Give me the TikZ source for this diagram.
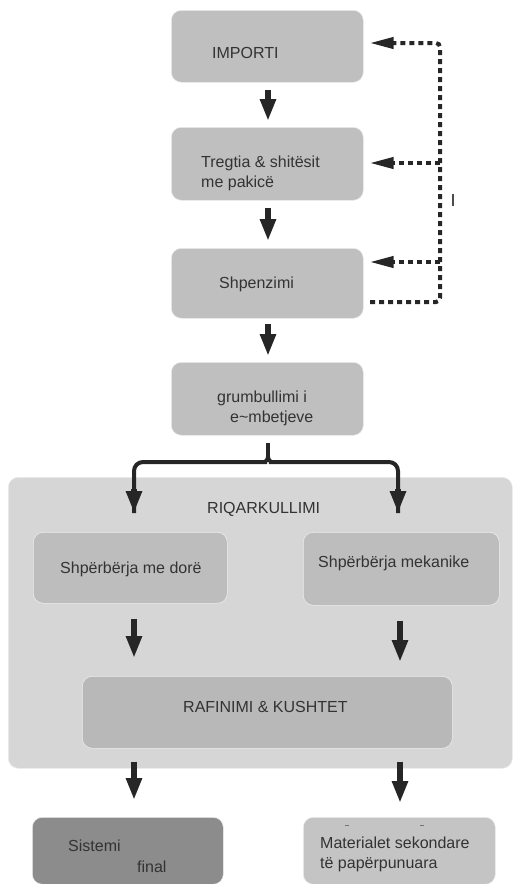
\documentclass[tikz,border=0pt]{standalone}
\usepackage{fontspec}
\setmainfont{Liberation Sans}
\usetikzlibrary{arrows.meta,calc}
\begin{document}
\begin{tikzpicture}[x=1pt,y=-1pt,
  box/.style={draw=white!85!gray,line width=0.6pt,rounded corners=10pt,fill=#1,inner sep=0pt},
  box/.default={gray!50!white},
  lbl/.style={anchor=base west,font=\fontsize{16}{20}\selectfont,text=black!80,inner sep=0pt},
  arr/.style={line width=6pt,black!85,-{Triangle[length=22pt,width=15pt]}},
  fb/.style={line width=4pt,black!85,dash pattern=on 5pt off 4pt,rounded corners=4pt},
  fbarr/.style={fb,-{Triangle[length=24pt,width=11pt]}},
  brace/.style={line width=4pt,black!85,rounded corners=9pt}
]
\useasboundingbox (0,0) rectangle (513,884);
% background group
\node[box=black!16,minimum width=504pt,minimum height=291pt,anchor=north west] (riq) at (8,477) {};
% top chain
\node[box=black!25,minimum width=192pt,minimum height=72pt,anchor=north west] (imp) at (171,10) {};
\node[box=black!25,minimum width=192pt,minimum height=73pt,anchor=north west] (tre) at (171,127) {};
\node[box=black!25,minimum width=192pt,minimum height=70pt,anchor=north west] (shp) at (171,248) {};
\node[box=black!25,minimum width=192pt,minimum height=73pt,anchor=north west] (gru) at (171,362) {};
% inner boxes
\node[box=black!26,minimum width=194pt,minimum height=71pt,anchor=north west] (dor) at (33,532) {};
\node[box=black!26,minimum width=196pt,minimum height=73pt,anchor=north west] (mek) at (303,532) {};
\node[box=black!28,minimum width=370pt,minimum height=72pt,anchor=north west] (raf) at (82,676) {};
% outputs
\node[box=black!45,minimum width=191pt,minimum height=67pt,anchor=north west] (sis) at (32,817) {};
\node[box=black!23,minimum width=192pt,minimum height=67pt,anchor=north west] (mat) at (303,817) {};
% texts
\node[lbl] (timp) at (212,58) {IMPORTI};
\node[lbl] (ttre1) at (201,167) {Tregtia \& shitësit};
\node[lbl] (ttre2) at (201,187) {me pakicë};
\node[lbl] (tshp) at (219,288) {Shpenzimi};
\node[lbl] (tgru1) at (217,402) {grumbullimi i};
\node[lbl] (tgru2) at (230,422) {e\char`\~mbetjeve};
\node[lbl] (triq) at (207,513) {RIQARKULLIMI};
\node[lbl] (tdor) at (60,573) {Shpërbërja me dorë};
\node[lbl] (tmek) at (318,567) {Shpërbërja mekanike};
\node[lbl] (traf) at (183,712) {RAFINIMI \& KUSHTET};
\node[lbl] (tsis1) at (68,851) {Sistemi};
\node[lbl] (tsis2) at (137,872) {final};
\node[lbl] (tmat1) at (320,848) {Materialet sekondare};
\node[lbl] (tmat2) at (320,868) {të papërpunuara};
% column coordinates
\coordinate (cx) at (268,0);
\coordinate (lx) at (134,0);
\coordinate (rx) at (400,0);
% top arrows
\draw[arr,shorten <=7pt,shorten >=6pt] (imp.south -| cx) -- (tre.north -| cx);
\draw[arr,shorten <=7pt,shorten >=7pt] (tre.south -| cx) -- (shp.north -| cx);
\draw[arr,shorten <=5pt,shorten >=6pt] (shp.south -| cx) -- (gru.north -| cx);
% brace split
\coordinate (bm) at (268,462);
\coordinate (bl) at (134,462);
\coordinate (br) at (398,462);
\coordinate (blt) at (134,513);
\coordinate (brt) at (398,513);
\draw[brace,shorten <=7pt] (gru.south -| cx) -- ($(bm)+(0,-5)$);
\draw[brace] ($(bm)+(0,-5)$) to[out=-90,in=0] ($(bm)+(-10,0)$) -- (bl) -- (blt);
\draw[brace] ($(bm)+(0,-5)$) to[out=-90,in=180] ($(bm)+(10,0)$) -- (br) -- (brt);
\draw[arr] ($(blt)+(0,-24)$) -- (blt);
\draw[arr] ($(brt)+(0,-24)$) -- (brt);
% inner arrows
\draw[arr,shorten <=15pt,shorten >=18pt] (dor.south -| lx) -- (raf.north -| lx);
\draw[arr,shorten <=15pt,shorten >=14pt] (mek.south -| rx) -- (raf.north -| rx);
% bottom arrows
\draw[arr,shorten <=13pt,shorten >=17pt] (raf.south -| lx) -- (sis.north -| lx);
\draw[arr,shorten <=13pt,shorten >=14pt] (raf.south -| rx) -- (mat.north -| rx);
% feedback loop
\coordinate (fb0) at (370,302);
\coordinate (fbc) at (440,302);
\coordinate (fb1) at (440,43);
\coordinate (fb2) at (440,163);
\coordinate (fb3) at (440,262);
\draw[fbarr,shorten >=6pt] (fb0) -- (fbc) -- (fb1) -- (imp.east |- fb1);
\draw[fbarr,shorten >=6pt] (fb2) -- (tre.east |- fb2);
\draw[fbarr,shorten >=6pt] (fb3) -- (shp.east |- fb3);
% stray marks
\draw[black!70,line width=1.2pt] (453,194) -- (453,206);
\draw[black!55,line width=1pt] (345,825) -- (349,825);
\draw[black!55,line width=1pt] (420,825) -- (424,825);
\end{tikzpicture}
\end{document}
